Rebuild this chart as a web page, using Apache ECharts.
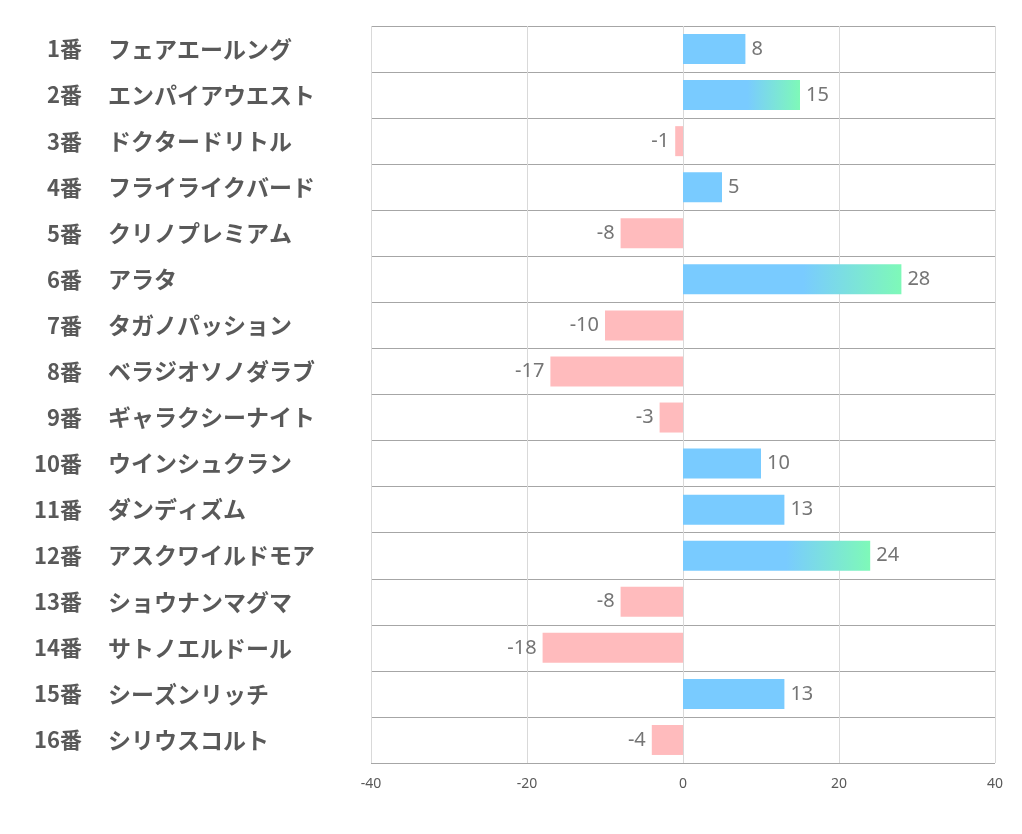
<!DOCTYPE html>
<html>
<head>
<meta charset="utf-8">
<script src="https://cdn.jsdelivr.net/npm/echarts@6/dist/echarts.min.js"></script>
<style>
  html, body { margin: 0; padding: 0; background: #fff; }
  #chart { width: 1022px; height: 834px; }
</style>
</head>
<body>
<div id="chart"></div>
<script>
var numbers = ["1番", "2番", "3番", "4番", "5番", "6番", "7番", "8番",
  "9番", "10番", "11番", "12番", "13番", "14番", "15番", "16番"];
var horses = ["フェアエールング", "エンパイアウエスト", "ドクタードリトル", "フライライクバード",
  "クリノプレミアム", "アラタ", "タガノパッション", "ベラジオソノダラブ",
  "ギャラクシーナイト", "ウインシュクラン", "ダンディズム", "アスクワイルドモア",
  "ショウナンマグマ", "サトノエルドール", "シーズンリッチ", "シリウスコルト"];
var scores = [8, 15, -1, 5, -8, 28, -10, -17, -3, 10, 13, 24, -8, -18, 13, -4];
var xTicks = [-40, -20, 0, 20, 40];

var chart = echarts.init(document.getElementById("chart"));

// top 3 get the gradient
var top3 = scores.slice().sort(function(a, b) { return b - a; }).slice(0, 3);

var barData = scores.map(function(v) {
  var color = "#FFBBBD";
  if (v > 0) {
    color = "#79CBFF";
    if (top3.indexOf(v) >= 0) {
      color = new echarts.graphic.LinearGradient(0, 0, 1, 0, [
        { offset: 0, color: "#79CBFF" },
        { offset: 0.55, color: "#79CBFF" },
        { offset: 1, color: "#7EF9B8" }
      ]);
    }
  }
  return {
    value: v,
    itemStyle: { color: color },
    label: { position: v < 0 ? "left" : "right" }
  };
});

var labelFont = {
  fontSize: 22,
  fontWeight: "bold",
  color: "#595959",
  fontFamily: "Noto Sans CJK JP"
};

chart.setOption({
  backgroundColor: "#fff",
  animation: false,
  grid: { left: 371, right: 27, top: 26, bottom: 71 },
  xAxis: {
    type: "value",
    min: xTicks[0],
    max: xTicks[xTicks.length - 1],
    interval: 20,
    axisLine: { show: false },
    axisTick: { show: false },
    axisLabel: {
      color: "#595959",
      fontSize: 14,
      fontFamily: "Noto Sans",
      margin: 14
    },
    splitLine: { lineStyle: { color: "#D9D9D9", width: 1 } }
  },
  yAxis: [
    {
      // 番号
      type: "category",
      inverse: true,
      data: numbers,
      axisLine: { show: false },
      axisTick: { show: false },
      splitLine: { show: true, lineStyle: { color: "#A6A6A6", width: 1 } },
      axisLabel: Object.assign({ margin: 289, align: "right" }, labelFont)
    },
    {
      // 馬名
      type: "category",
      inverse: true,
      position: "left",
      data: horses,
      axisLine: { show: false },
      axisTick: { show: false },
      splitLine: { show: false },
      axisLabel: Object.assign({ margin: 263, align: "left" }, labelFont, { fontSize: 23 })
    }
  ],
  series: [
    {
      type: "bar",
      yAxisIndex: 0,
      data: barData,
      barWidth: 30,
      label: {
        show: true,
        color: "#757575",
        fontSize: 20,
        fontFamily: "Noto Sans",
        distance: 6
      }
    }
  ]
});
</script>
</body>
</html>
